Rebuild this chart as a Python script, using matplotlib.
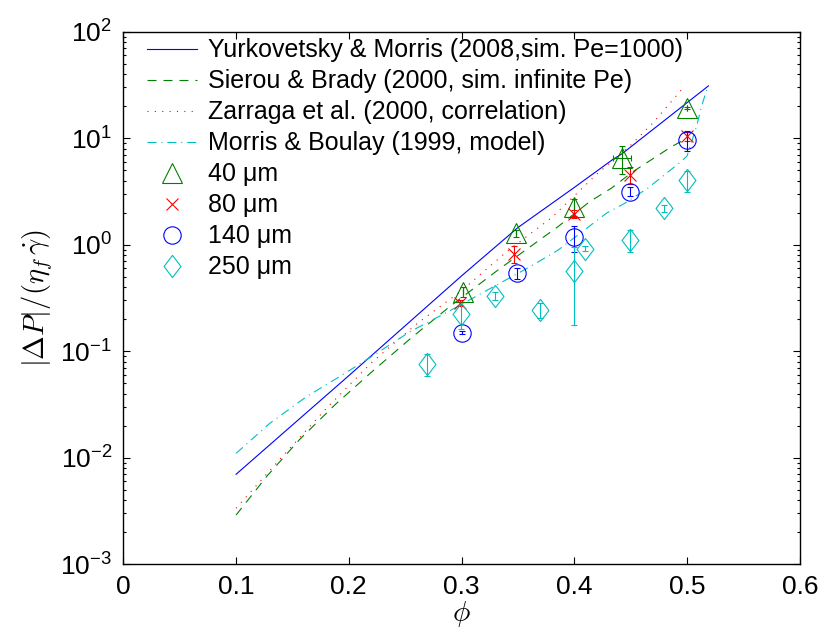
import matplotlib
matplotlib.use("Agg")
import matplotlib.pyplot as plt

plt.rcParams["font.family"] = ["Liberation Sans", "DejaVu Sans"]
plt.rcParams["mathtext.fontset"] = "cm"
plt.rcParams["lines.scale_dashes"] = False

# --- model curves ---
phi_ym = [0.1, 0.2, 0.3, 0.35, 0.4, 0.434, 0.442, 0.519]
dp_ym = [0.007, 0.059, 0.51, 1.45, 3.45, 6.3, 7.1, 31]

phi_sb = [0.1, 0.1275, 0.1565, 0.1885, 0.2216, 0.255, 0.2896, 0.3324,
          0.3856, 0.4137, 0.433, 0.452, 0.486, 0.5]
dp_sb = [0.0029, 0.00675, 0.0149, 0.032, 0.0657, 0.1325, 0.263, 0.58,
         1.48, 2.54, 3.4, 4.85, 8.3, 10.0]

phi_za = [0.1, 0.14, 0.18, 0.22, 0.26, 0.30, 0.34, 0.38, 0.42, 0.45, 0.47, 0.498]
dp_za = [0.00336, 0.0100, 0.029, 0.078, 0.18, 0.37, 0.86, 1.80, 4.6, 8.6, 14, 31]

phi_mb = [0.1, 0.13, 0.1625, 0.192, 0.2186, 0.254, 0.2896, 0.3177, 0.3605,
          0.3856, 0.4286, 0.4448, 0.465, 0.4936, 0.5, 0.5084, 0.5128, 0.5187]
dp_mb = [0.011, 0.0211, 0.0375, 0.058, 0.087, 0.152, 0.24, 0.35, 0.62,
         0.89, 1.98, 2.45, 3.39, 5.9, 6.8, 12.9, 19.8, 31.6]

# --- experiments ---
phi_40 = [0.3014, 0.3487, 0.3996, 0.4419, 0.5]
dp_40 = [0.363, 1.28, 2.28, 6.49, 19.1]
err_40 = [0.04, 0.1, 0.4, 1.9, 0.5]
xerr_40 = [0, 0, 0, 0.008, 0]

phi_80 = [0.299, 0.3466, 0.3996, 0.4498, 0.5]
dp_80 = [0.286, 0.82, 1.95, 4.52, 10.5]
err_80 = [0.02, 0.15, 0.15, 0.8, 1.0]

phi_140 = [0.3, 0.3496, 0.3996, 0.4498, 0.5]
dp_140 = [0.15, 0.54, 1.17, 3.15, 9.64]
err_140 = [0.005, 0.06, 0.32, 0.3, 2.0]

phi_250 = [0.2694, 0.2996, 0.3295, 0.3694, 0.3996, 0.4093, 0.4498, 0.4796, 0.5]
dp_250 = [0.076, 0.224, 0.333, 0.244, 0.567, 0.914, 1.11, 2.2, 4.06]
err_250 = [0.018, 0.063, 0.03, 0.04, 0.39, 0.05, 0.26, 0.15, 0.9]

labels = ["Yurkovetsky & Morris (2008,sim. Pe=1000)",
          "Sierou & Brady (2000, sim. infinite Pe)",
          "Zarraga et al. (2000, correlation)",
          "Morris & Boulay (1999, model)",
          "40 \u03bcm", "80 \u03bcm", "140 \u03bcm", "250 \u03bcm"]

diamond = [(0, 0.5), (0.38, 0), (0, -0.5), (-0.38, 0), (0, 0.5)]

fig = plt.figure(figsize=(8.22, 6.36), dpi=100)
ax = fig.add_axes([0.150, 0.1127, 0.823, 0.8375])

lw = 0.8
ax.plot(phi_ym, dp_ym, color="blue", lw=lw, label=labels[0])
ax.plot(phi_sb, dp_sb, color="#008000", lw=lw, dashes=(6.5, 5), label=labels[1])
ax.plot(phi_za, dp_za, color="red", lw=lw, dashes=(0.8, 4.5), label=labels[2])
ax.plot(phi_mb, dp_mb, color="#00bfbf", lw=lw, dashes=(6.5, 3.5, 0.8, 3.5), label=labels[3])

ekw = dict(fmt="none", elinewidth=lw, capsize=2.5, capthick=lw)
ax.errorbar(phi_40, dp_40, yerr=err_40, xerr=xerr_40, ecolor="#008000", **ekw)
ax.errorbar(phi_80, dp_80, yerr=err_80, ecolor="red", **ekw)
ax.errorbar(phi_140, dp_140, yerr=err_140, ecolor="blue", **ekw)
ax.errorbar(phi_250, dp_250, yerr=err_250, ecolor="#00bfbf", **ekw)

ax.plot(phi_40, dp_40, ls="none", marker="^", ms=14, mfc="none", mec="#008000", mew=lw, label=labels[4])
ax.plot(phi_80, dp_80, ls="none", marker="x", ms=9, mec="red", mew=lw, label=labels[5])
ax.plot(phi_140, dp_140, ls="none", marker="o", ms=12.5, mfc="none", mec="blue", mew=lw, label=labels[6])
ax.plot(phi_250, dp_250, ls="none", marker=diamond, ms=16, mfc="none", mec="#00bfbf", mew=lw, label=labels[7])

ax.set_yscale("log")
ax.set_xlim(0, 0.6)
ax.set_ylim(1e-3, 1e2)
ax.set_xticks([0, 0.1, 0.2, 0.3, 0.4, 0.5, 0.6])
ax.set_xticklabels(["0", "0.1", "0.2", "0.3", "0.4", "0.5", "0.6"])
ax.tick_params(which="both", direction="in", top=True, right=True, labelsize=19, width=0.8)
ax.tick_params(which="major", length=5, pad=8)
ax.tick_params(which="minor", length=2.5)
for s in ax.spines.values():
    s.set_linewidth(1.0)

ax.set_xlabel(r"$\phi$", fontsize=21, labelpad=0)
ax.set_ylabel(r"$|\Delta P|/(\eta_f\,\dot{\gamma})$", fontsize=20.5, labelpad=4)

ax.legend(loc="upper left", bbox_to_anchor=(0.005, 1.025), frameon=False, fontsize=18,
          handlelength=2.0, handletextpad=0.45, labelspacing=0.28, borderaxespad=0.4)

fig.savefig("out.png", dpi=100)
